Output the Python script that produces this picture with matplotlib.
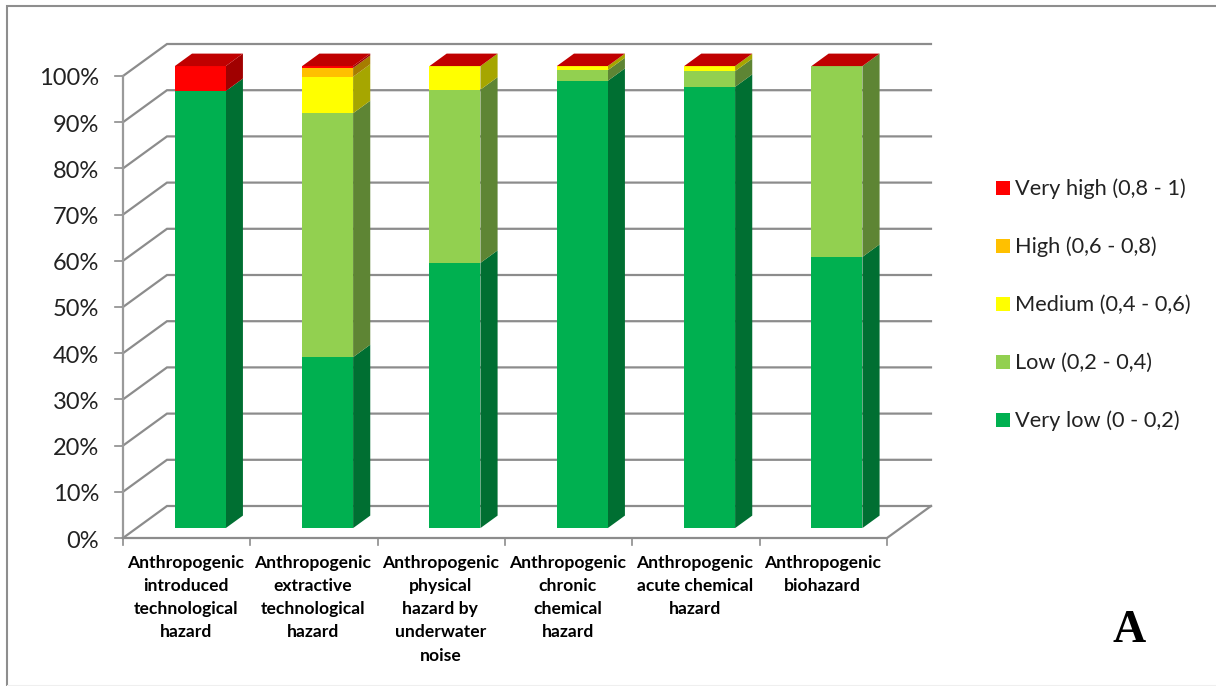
import matplotlib
matplotlib.use("Agg")
import matplotlib.pyplot as plt
from matplotlib.patches import Polygon, Rectangle

categories = [
    "Anthropogenic\nintroduced\ntechnological\nhazard",
    "Anthropogenic\nextractive\ntechnological\nhazard",
    "Anthropogenic\nphysical\nhazard by\nunderwater\nnoise",
    "Anthropogenic\nchronic\nchemical\nhazard",
    "Anthropogenic\nacute chemical\nhazard",
    "Anthropogenic\nbiohazard",
]
very_low = [94.6, 37.0, 57.4, 96.8, 95.5, 58.7]
low = [0.0, 52.8, 37.5, 2.3, 3.4, 41.3]
medium = [0.0, 7.9, 5.1, 0.9, 1.1, 0.0]
high = [0.0, 1.9, 0.0, 0.0, 0.0, 0.0]
very_high = [5.4, 0.4, 0.0, 0.0, 0.0, 0.0]
legend_labels = ["Very low (0 - 0,2)", "Low (0,2 - 0,4)", "Medium (0,4 - 0,6)",
                 "High (0,6 - 0,8)", "Very high (0,8 - 1)"]
y_ticks = list(range(0, 101, 10))

series = [very_low, low, medium, high, very_high]
front_colors = ["#00B050", "#92D050", "#FFFF00", "#FFC000", "#FF0000"]
side_colors = ["#006F32", "#5E8534", "#A6A600", "#A67C00", "#A00000"]
top_color = "#C00000"
grid_color = "#8C8C8C"

W, H = 1216, 686
# pixels per category and per percent on the front plane
X0, Y0 = 123, 538
PX_CAT = 127.33
PX_PCT = 4.62
# oblique shift of the full chart depth, in data units
DEPTH_X = 44 / PX_CAT
DEPTH_Y = 32 / PX_PCT
BAR_W = 0.4
BAR_D0, BAR_D1 = 0.31, 0.70

plt.rcParams["font.family"] = ["Lato", "DejaVu Sans"]

fig = plt.figure(figsize=(W / 100, H / 100), dpi=100)
ax = fig.add_axes([0, 0, 1, 1])
ax.set_xlim(-X0 / PX_CAT, (W - X0) / PX_CAT)
ax.set_ylim(-(H - Y0) / PX_PCT, Y0 / PX_PCT)
ax.axis("off")


def proj(x, y, d=0.0):
    # oblique projection: d runs from the front plane (0) to the back wall (1)
    return (x + d * DEPTH_X, y + d * DEPTH_Y)


def line(points, lw=1.6, color=grid_color, z=1):
    ax.plot([p[0] for p in points], [p[1] for p in points], color=color, lw=lw,
            solid_capstyle="projecting", solid_joinstyle="miter", zorder=z)


def to_data(px, py):
    return ((px - X0) / PX_CAT, (Y0 - py) / PX_PCT)


# outer chart frame
frame = [to_data(7, 685), to_data(7, 6), to_data(1217, 6)]
line(frame, lw=1.5, color="#8E8E8E")
line([to_data(7, 685), to_data(1216, 685)], lw=0.8, color="#EFEFEF")

n = len(categories)

# walls and floor
for t in y_ticks:
    line([proj(0, t, 0), proj(0, t, 1), proj(n, t, 1)])
    line([proj(-0.06, t, 0), proj(0, t, 0)], lw=1.2)
    ax.text(*to_data(99, Y0 + 3 - t * PX_PCT), f"{t}%", ha="right", va="center",
            fontsize=17, color="#222222")
line([proj(0, 0, 0), proj(0, 100, 0)], lw=1.6, color="#9A9A9A")
line([proj(0, 0, 0), proj(n, 0, 0), proj(n, 0, 1)])
for i in range(n + 1):
    line([proj(i, 0, 0), to_data(X0 + i * PX_CAT, Y0 + 7)], lw=1.2)

# stacked 3D columns, lowest segment first
for i in range(n):
    x0 = i + 0.5 - BAR_W / 2
    x1 = i + 0.5 + BAR_W / 2
    base = 0.0
    for values, fc, sc in zip(series, front_colors, side_colors):
        v = values[i]
        if v <= 0:
            continue
        top = base + v
        # side face goes down first so the front edge stays crisp
        ax.add_patch(Polygon([proj(x1, base, BAR_D0), proj(x1, top, BAR_D0),
                              proj(x1, top, BAR_D1), proj(x1, base, BAR_D1)],
                             closed=True, fc=sc, ec="none", zorder=3))
        ax.add_patch(Polygon([proj(x0, base, BAR_D0), proj(x1, base, BAR_D0),
                              proj(x1, top, BAR_D0), proj(x0, top, BAR_D0)],
                             closed=True, fc=fc, ec="none", zorder=4))
        base = top
    ax.add_patch(Polygon([proj(x0, base, BAR_D0), proj(x1, base, BAR_D0),
                          proj(x1, base, BAR_D1), proj(x0, base, BAR_D1)],
                         closed=True, fc=top_color, ec="none", zorder=5))

    # category label under the axis
    ax.text(*to_data(X0 + (i + 0.5) * PX_CAT - 1, 555), categories[i], ha="center", va="top",
            fontsize=12.6, fontweight="bold", color="black", linespacing=1.55)

# legend, top entry is the last series
legend_y = [188, 246, 304, 362, 420]
for py, label, fc in zip(legend_y, legend_labels[::-1], front_colors[::-1]):
    px0, py0 = to_data(996, py + 7)
    ax.add_patch(Rectangle((px0, py0), 14 / PX_CAT, 14 / PX_PCT, fc=fc, ec="none"))
    ax.text(*to_data(1015, py + 1), label, ha="left", va="center", fontsize=15.7, color="#222222")

ax.text(*to_data(1129, 631), "A", ha="center", va="center", fontsize=33, fontweight="bold",
        family="Liberation Serif", color="black")

fig.savefig("out.png", dpi=100, facecolor="white")
